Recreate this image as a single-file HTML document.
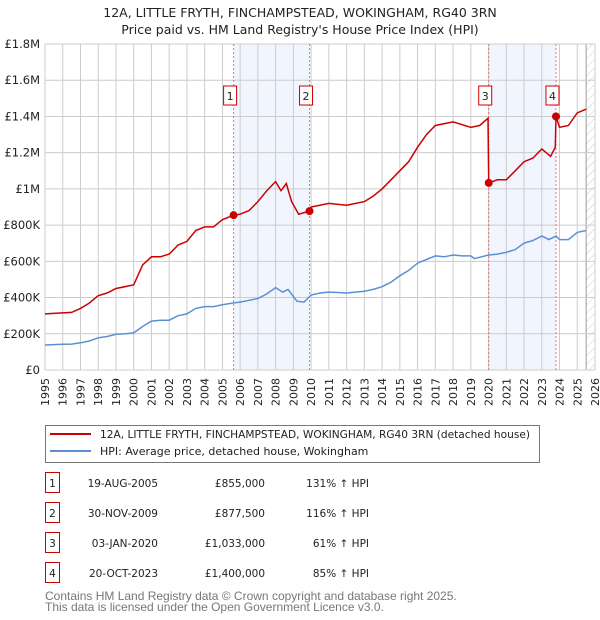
<!DOCTYPE html>
<html><head><meta charset="utf-8"><style>
body{margin:0;background:#fff;font-family:"Liberation Sans","DejaVu Sans",sans-serif}
svg{display:block}
text{font-family:"DejaVu Sans","Liberation Sans",sans-serif}
.ls{font-family:"Liberation Sans","DejaVu Sans",sans-serif}
</style></head><body>
<svg id="c" width="600" height="620" viewBox="0 0 600 620" xmlns="http://www.w3.org/2000/svg">
<defs><pattern id="hatch" width="6" height="6" patternUnits="userSpaceOnUse" patternTransform="rotate(45)"><line x1="0" y1="0" x2="0" y2="6" stroke="#ccc" stroke-width="1"/></pattern></defs>
<text x="300" y="17" text-anchor="middle" font-size="12.5" fill="#222">12A, LITTLE FRYTH, FINCHAMPSTEAD, WOKINGHAM, RG40 3RN</text>
<text x="300" y="34" text-anchor="middle" font-size="12.5" fill="#222">Price paid vs. HM Land Registry's House Price Index (HPI)</text>
<g id="plot"></g>
<g>
<rect x="45.5" y="425.5" width="494" height="37" fill="#fff" stroke="#777"/>
<line x1="50" y1="434" x2="91" y2="434" stroke="#cc0000" stroke-width="2"/>
<text x="100" y="438" font-size="11" textLength="430" lengthAdjust="spacingAndGlyphs" fill="#222">12A, LITTLE FRYTH, FINCHAMPSTEAD, WOKINGHAM, RG40 3RN (detached house)</text>
<line x1="50" y1="451" x2="91" y2="451" stroke="#5b8fd4" stroke-width="2"/>
<text x="100" y="455" font-size="11" fill="#222">HPI: Average price, detached house, Wokingham</text>
</g>
<g id="tbl" font-size="10.5" fill="#222"></g>
<text class="ls" x="45" y="600" font-size="12" fill="#777">Contains HM Land Registry data © Crown copyright and database right 2025.</text>
<text class="ls" x="45" y="611" font-size="12" fill="#777">This data is licensed under the Open Government Licence v3.0.</text>
</svg>
<script>
const hpiYears=[1995,1995.5,1996,1996.5,1997,1997.5,1998,1998.5,1999,1999.5,2000,2000.5,2001,2001.5,2002,2002.5,2003,2003.5,2004,2004.5,2005,2005.6,2006,2006.5,2007,2007.5,2008,2008.4,2008.7,2009.2,2009.6,2010,2010.5,2011,2011.5,2012,2012.5,2013,2013.5,2014,2014.5,2015,2015.5,2016,2016.5,2017,2017.5,2018,2018.5,2019,2019.2,2019.6,2020,2020.5,2021,2021.5,2022,2022.5,2023,2023.4,2023.8,2024,2024.5,2025,2025.5];
const hpiValues=[138,140,142,143,150,160,178,185,197,200,205,240,270,275,275,300,310,340,350,350,360,370,375,385,395,420,455,430,445,380,375,414,425,430,428,425,430,435,445,460,485,520,550,590,610,630,625,635,630,630,615,625,635,640,650,665,700,715,740,720,740,720,720,760,770];
const priceYears=[1995,1996,1996.5,1997,1997.5,1998,1998.5,1999,2000,2000.5,2001,2001.5,2002,2002.5,2003,2003.5,2004,2004.5,2005,2005.63,2006,2006.5,2007,2007.5,2008,2008.3,2008.6,2008.9,2009.3,2009.91,2010,2011,2012,2013,2013.5,2014,2014.5,2015,2015.5,2016,2016.5,2017,2018,2019,2019.5,2019.97,2020.01,2020.5,2021,2021.5,2022,2022.5,2023,2023.5,2023.76,2023.8,2024,2024.5,2025,2025.5];
const priceValues=[310,315,318,340,370,410,425,450,470,580,625,625,640,690,710,770,790,790,830,855,860,880,930,990,1040,990,1030,930,860,877.5,900,920,910,930,960,1000,1050,1100,1150,1230,1300,1350,1370,1340,1350,1390,1033,1050,1050,1100,1150,1170,1220,1180,1230,1400,1340,1350,1420,1440];
const saleYears=[2005.63,2009.91,2020.01,2023.8];
const saleValues=[855,877.5,1033,1400];
const saleLabels=["1","2","3","4"];
const saleDates=["19-AUG-2005","30-NOV-2009","03-JAN-2020","20-OCT-2023"];
const salePrices=["£855,000","£877,500","£1,033,000","£1,400,000"];
const saleHpi=["131% ↑ HPI","116% ↑ HPI","61% ↑ HPI","85% ↑ HPI"];
const yTicks=[0,200,400,600,800,1000,1200,1400,1600,1800];
const yTickLabels=["£0","£200K","£400K","£600K","£800K","£1M","£1.2M","£1.4M","£1.6M","£1.8M"];
const xTicks=[1995,1996,1997,1998,1999,2000,2001,2002,2003,2004,2005,2006,2007,2008,2009,2010,2011,2012,2013,2014,2015,2016,2017,2018,2019,2020,2021,2022,2023,2024,2025,2026];

const NS="http://www.w3.org/2000/svg";
const X0=45,X1=595,Y0=370,Y1=44;
const sx=y=>X0+(y-1995)/(2026-1995)*(X1-X0);
const sy=v=>Y0-v/1800*(Y0-Y1);
const plot=document.getElementById('plot');
function mk(tag,a,parent){const e=document.createElementNS(NS,tag);for(const k in a)e.setAttribute(k,a[k]);(parent||plot).appendChild(e);return e;}
let e;
e=mk('rect',{x:X0,y:Y1,width:X1-X0,height:Y0-Y1,fill:'#fff'});


for(const [a,b] of [[0,1],[2,3]]){
 e=mk('rect',{x:sx(saleYears[a]),y:Y1,width:sx(saleYears[b])-sx(saleYears[a]),height:Y0-Y1,fill:'#eef3fc',opacity:0.8});
 
 
}
e=mk('rect',{x:sx(2025.5),y:Y1,width:X1-sx(2025.5),height:Y0-Y1,fill:'url(#hatch)'});


mk('line',{x1:sx(2025.5),y1:Y1,x2:sx(2025.5),y2:Y0,stroke:'#999'});
xTicks.forEach(t=>{
 e=mk('line',{x1:sx(t),y1:Y1,x2:sx(t),y2:Y0,stroke:'#ccc'});
 
 
 e=mk('text',{x:0,y:0,'font-size':11,fill:'#222','text-anchor':'end',transform:`translate(${sx(t)+4},${Y0+8}) rotate(-90)`});
 e.textContent=t;
 
 
});
yTicks.forEach((t,i)=>{
 e=mk('line',{x1:X0,y1:sy(t),x2:X1,y2:sy(t),stroke:'#ccc'});
 
 
 e=mk('text',{x:X0-5,y:sy(t)+4,'font-size':11.5,fill:'#222','text-anchor':'end'});
 e.textContent=yTickLabels[i];
 
 
});
mk('rect',{x:X0,y:Y1,width:X1-X0,height:Y0-Y1,fill:'none',stroke:'#ccc'});
saleYears.forEach((y,i)=>{
 e=mk('line',{x1:sx(y),y1:Y1,x2:sx(y),y2:Y0,stroke:'#f07070','stroke-dasharray':'2,2'});
 
 
 const g=mk('g',{});
 
 
 mk('rect',{x:sx(y)-10,y:86,width:13,height:19,fill:'#fff',stroke:'#cc0000'},g);
 const t=mk('text',{x:sx(y)-3.5,y:100,'font-size':11,'text-anchor':'middle',fill:'#222'},g);
 t.textContent=saleLabels[i];
});
const path=(xs,vs)=>xs.map((x,i)=>(i?'L':'M')+sx(x).toFixed(1)+','+sy(vs[i]).toFixed(1)).join('');
e=mk('path',{d:path(hpiYears,hpiValues),fill:'none',stroke:'#5b8fd4','stroke-width':1.5});


e=mk('path',{d:path(priceYears,priceValues),fill:'none',stroke:'#cc0000','stroke-width':1.5});


saleYears.forEach((y,i)=>{
 e=mk('circle',{cx:sx(y),cy:sy(saleValues[i]),r:4,fill:'#cc0000'});
 
 
});
const tbl=document.getElementById('tbl');
saleLabels.forEach((l,i)=>{
 const cy=483+i*30;
 const g=mk('g',{},tbl);
 
 
 mk('rect',{x:45.5,y:cy-10.5,width:14,height:20,fill:'#fff',stroke:'#cc0000'},g);
 let t=mk('text',{x:52.5,y:cy+4,'text-anchor':'middle'},g);t.textContent=l;
 t=mk('text',{x:158,y:cy+4,'text-anchor':'end'},g);t.textContent=saleDates[i];
 t=mk('text',{x:265,y:cy+4,'text-anchor':'end'},g);t.textContent=salePrices[i];
 t=mk('text',{x:369,y:cy+4,'text-anchor':'end'},g);t.textContent=saleHpi[i];
});
</script>
</body></html>
